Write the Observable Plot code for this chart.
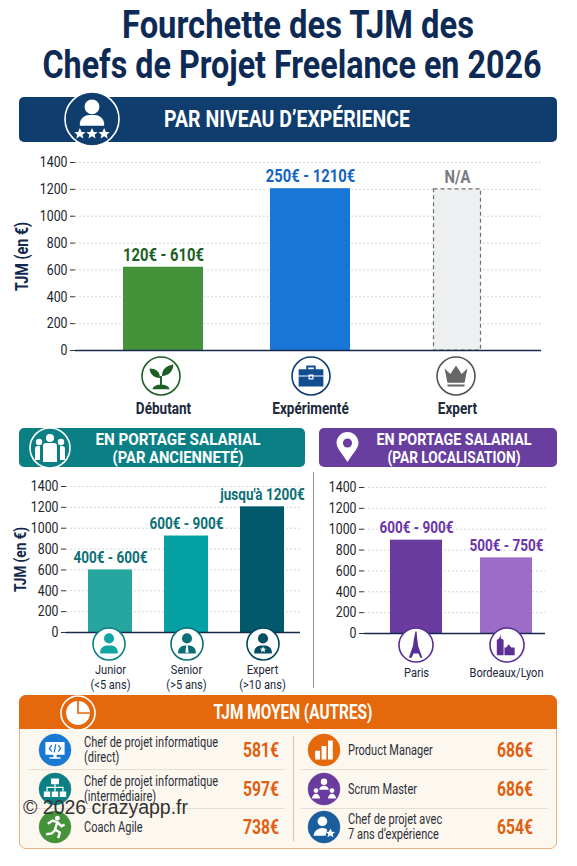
<!DOCTYPE html>
<html lang="fr"><head><meta charset="utf-8">
<script src="https://cdn.jsdelivr.net/npm/d3@7"></script>
<script src="https://cdn.jsdelivr.net/npm/@observablehq/plot@0.6"></script>
<style>
html,body{margin:0;padding:0;background:#fff}
#page{position:relative;width:577px;height:866px;overflow:hidden;font-family:Roboto,"Liberation Sans",sans-serif;color:#172a4a}
#page>*{position:absolute}
.t{white-space:nowrap;transform-origin:0 50%}
.sep{background:#e6dfd2}
svg text{font-family:Roboto,"Liberation Sans",sans-serif}
</style></head><body><div id="page"></div>
<script>
// --- Data ---
const titleLines = ["Fourchette des TJM des", "Chefs de Projet Freelance en 2026"];
const yTicks = [0, 200, 400, 600, 800, 1000, 1200, 1400];

const levelCats = ["Débutant", "Expérimenté"];
const levelValues = [620, 1205];
const levelLabels = ["120€ - 610€", "250€ - 1210€"];
const naCat = "Expert";
const naValue = 1200;
const naLabel = "N/A";

const seniorityCats = ["Junior\n(<5 ans)", "Senior\n(>5 ans)", "Expert\n(>10 ans)"];
const seniorityValues = [600, 925, 1205];
const seniorityLabels = ["400€ - 600€", "600€ - 900€", "jusqu'à 1200€"];

const placeCats = ["Paris", "Bordeaux/Lyon"];
const placeValues = [895, 725];
const placeLabels = ["600€ - 900€", "500€ - 750€"];

const yLabel = "TJM (en €)";
const otherLeftNames = ["Chef de projet informatique\n(direct)", "Chef de projet informatique\n(intermédiaire)", "Coach Agile"];
const otherLeftValues = ["581€", "597€", "738€"];
const otherRightNames = ["Product Manager", "Scrum Master", "Chef de projet avec\n7 ans d’expérience"];
const otherRightValues = ["686€", "686€", "654€"];

// --- Colours ---
const levelFill = ["#44933a", "#1877d6"];
const levelText = ["#1c5e24", "#1565c0"];
const seniorityFill = ["#27a6a0", "#05a0a4", "#02596b"];
const placeFill = ["#6a3c9e", "#9d6cc6"];
const navy = "#0f3d6e", teal = "#0b8084", purple = "#683e9f", orange = "#e5690c";

const page = document.getElementById("page");
function add(html){ const t=document.createElement("template"); t.innerHTML=html.trim(); const n=t.content.firstChild; page.appendChild(n); return n; }
function place(node,left,top){ node.style.left=left+"px"; node.style.top=top+"px"; page.appendChild(node); return node; }

// HTML text squeezed horizontally to imitate the condensed face. anchor: 0 left, .5 centre.
function txt(s,{x,y,size,weight=400,color="#fff",width,scale,anchor=0,lh}){
  const n=add(`<div class="t" style="left:${x}px;top:${y}px;font-size:${size}px;font-weight:${weight};color:${color};line-height:${lh||size*1.1}px"></div>`);
  n.textContent=s;
  const w=n.getBoundingClientRect().width;
  const k=scale||width/w;
  n.style.transform=`translateX(${-anchor*w*k}px) translateY(-50%) scaleX(${k})`;
  return n;
}
function squeeze(svg,k){
  svg.querySelectorAll("text").forEach(t=>{
    const spans=t.querySelectorAll("tspan");
    (spans.length?[...spans]:[t]).forEach(e=>{
      const l=e.getComputedTextLength();
      if(l>0){e.setAttribute("textLength",l*k);e.setAttribute("lengthAdjust","spacingAndGlyphs");}
    });
  });
}

function chart({cats,values,labels,fills,textFill,top,width,height,left,zeroGap,xRange,pad,xRight,tickFont,tickWeight,tickPad,labelFont,showY,yFont,extra=[]}){
  const rows = cats.map((c,i)=>({c,v:values[i],t:labels[i],tf:textFill[i]}));
  const domain = cats.concat(extra.map(e=>e.c));
  const svg=place(Plot.plot({
    width,height,marginLeft:left,marginRight:width-xRight,marginTop:12,marginBottom:zeroGap,
    style:{background:"transparent",overflow:"visible"},
    x:{type:"band",domain,range:xRange,paddingInner:pad,paddingOuter:0},
    y:{domain:[0,1400]},
    color:{domain:cats,range:fills},
    marks:[
      Plot.gridY(yTicks,{stroke:"#d3d6da",strokeOpacity:1,strokeDasharray:"2,2"}),
      Plot.barY(rows,{x:"c",y:"v",fill:"c"}),
      ...extra.map(e=>Plot.barY([e],{x:"c",y:"v",fill:"#eeeff1",stroke:"#6f6f6f",strokeWidth:1.2,strokeDasharray:"4,3",insetLeft:16.5,insetRight:16.5})),
      Plot.axisY({ticks:yTicks,tickFormat:"d",label:null,tickSize:5,tickPadding:3,fontSize:15,stroke:"#333",color:"#20242c"}),
      Plot.axisX({label:null,tickSize:0,tickPadding:tickPad,fontSize:tickFont,fontWeight:tickWeight,lineHeight:1.12,color:"#20283a"}),
      Plot.ruleY([0],{stroke:"#16294d",strokeWidth:1.6}),
      Plot.text(rows,{x:"c",y:"v",text:"t",dy:-12,fontSize:labelFont,fontWeight:700,fill:"tf"}),
      ...extra.map(e=>Plot.text([e],{x:"c",y:"v",text:"t",dy:-12,fontSize:labelFont,fontWeight:700,fill:"#777a80"})),
      ...(showY?[Plot.text([yLabel],{frameAnchor:"left",textAnchor:"middle",rotate:-90,dx:showY,fontSize:yFont,fontWeight:700,fill:"#13284d"})]:[])
    ]
  }),0,top);
  squeeze(svg,.82);
  return svg;
}

// --- Title ---
txt(titleLines[0],{x:298,y:26,size:38,weight:700,color:"#0d2a55",width:352,anchor:.5});
txt(titleLines[1],{x:291.5,y:66,size:38,weight:700,color:"#0d2a55",width:499,anchor:.5});

// --- Section headers ---
const box=(x,y,w,h,bg)=>add(`<div style="left:${x}px;top:${y}px;width:${w}px;height:${h}px;background:${bg};border-radius:5px"></div>`);
box(19,97,538,45,navy);
txt("PAR NIVEAU D’EXPÉRIENCE",{x:287,y:120,size:23,weight:700,width:246,anchor:.5});
box(19,428,286,39,teal);
txt("EN PORTAGE SALARIAL",{x:177.5,y:440,size:16.5,weight:700,width:165,anchor:.5});
txt("(PAR ANCIENNETÉ)",{x:178,y:458,size:16.5,weight:700,width:131,anchor:.5});
box(319,428,238,39,purple);
txt("EN PORTAGE SALARIAL",{x:453.5,y:440,size:16.5,weight:700,width:155,anchor:.5});
txt("(PAR LOCALISATION)",{x:453.5,y:458,size:16.5,weight:700,width:133,anchor:.5});

// --- Charts ---
chart({cats:levelCats,values:levelValues,labels:levelLabels,fills:levelFill,textFill:levelText,top:150,width:577,height:270,left:75,zeroGap:70,
  xRange:[123,497],pad:.456,xRight:541,tickFont:16.5,tickWeight:700,tickPad:50,labelFont:18,showY:-53,yFont:17.5,
  extra:[{c:naCat,v:naValue,t:naLabel}]});
chart({cats:seniorityCats,values:seniorityValues,labels:seniorityLabels,fills:seniorityFill,textFill:seniorityCats.map(()=>"#0e6f76"),top:474,width:310,height:214,left:66,zeroGap:56,
  xRange:[87,284.5],pad:.427,xRight:300,tickFont:13.5,tickWeight:400,tickPad:31,labelFont:16.5,showY:-46,yFont:16.5});
chart({cats:placeCats,values:placeValues,labels:placeLabels,fills:placeFill,textFill:placeCats.map(()=>"#6a35a8"),top:475,width:577,height:214,left:364,zeroGap:56,
  xRange:[390,532.5],pad:.425,xRight:545,tickFont:13.5,tickWeight:400,tickPad:33,labelFont:16.5});
add(`<div style="left:313px;top:472px;width:1px;height:216px;background:#8a8f96"></div>`);

// --- Decorative icons ---
const star = (x,y,s,c="#fff")=>`<path transform="translate(${x} ${y}) scale(${s})" fill="${c}" d="M0-5 1.5-1.6 5-1.5 2.3.7 3.1 4 0 2.2-3.1 4-2.3.7-5-1.5-1.5-1.6z"/>`;
const person = (c,extra="")=>`<circle cy="-7" r="6.3" fill="${c}"/><path fill="${c}" d="M-11 12v-3a8 8 0 0 1 8-7h6a8 8 0 0 1 8 7v3z"/>${extra}`;
function icon(cx,cy,r,bg,ring,body,ringW=1.6){
  const m=20+2*20/r;
  add(`<svg style="left:${cx-r-2}px;top:${cy-r-2}px" width="${2*r+4}" height="${2*r+4}" viewBox="${-m} ${-m} ${2*m} ${2*m}"><circle r="20" fill="${bg}" stroke="${ring}" stroke-width="${ringW*20/r}"/>${body}</svg>`);
}
icon(92,119,27,navy,"#fff",`<circle cy="-9" r="5.5" fill="#fff"/><path fill="#fff" d="M-9 5v-2a7 7 0 0 1 7-6h4a7 7 0 0 1 7 6v2z"/>${star(-9,11,.85)}${star(0,11,.85)}${star(9,11,.85)}`);
const people=`<g fill="#fff"><circle cx="-11" cy="-6" r="3.2"/><circle cx="11" cy="-6" r="3.2"/><circle cy="-10" r="4"/><path d="M-15 12V1a3 3 0 0 1 3-3h2v14zM15 12V1a3 3 0 0 0-3-3h-2v14zM-7 14V-2a3 3 0 0 1 3-3h8a3 3 0 0 1 3 3v16z"/></g>`;
icon(50,448,20,teal,"#fff",people);
add(`<svg style="left:336px;top:432px" width="23" height="31" viewBox="-12.5 -13 25 34"><path fill="#fff" d="M0 20C-6 10-12 5-12-1a12 12 0 0 1 24 0C12 5 6 10 0 20z"/><circle cy="-1" r="5" fill="${purple}"/></svg>`);
icon(161,376,19,"#fff","#1c5e24",`<path fill="#1c5e24" d="M-9 14a9 5 0 0 1 18 0zM-1 10V0h2v10zM-1 2C-8 2-12-3-12-8c6 0 11 3 11 10zM1 0C1-7 6-11 13-12c0 7-5 12-12 12z"/>`);
icon(311,376,19,"#fff","#0f3d6e",`<path fill="#0f4d8e" d="M-13-7h26v18h-26zM-5-7v-4h10v4h-2v-2h-6v2z"/><path d="M-13 0h26M-2-1h4v4h-4z" stroke="#fff" stroke-width="1.2" fill="none"/>`);
icon(456,376,19,"#fff","#555",`<path fill="#666" d="M-12-8-6-2 0-11 6-2 12-8 9 7H-9zM-9 9H9v2H-9z"/>`);
icon(109,644,16,"#fff","#0b8084",person("#12a3a3"));
icon(187,644,16,"#fff","#0b6f7a",person("#0b6f7a",`<path fill="#fff" d="M-1 2h2l1 9h-4z"/>`));
icon(263,644,16,"#fff","#02495a",person("#024f62",star(0,7,.8)));
icon(416,645,17,"#fff","#5a2f96",`<path fill="#5a2f96" d="M-.7-16h1.4l.8 9 1 8 5 14H5l-2-5h-6l-2 5h-3.5l5-14 1-8z"/>`);
icon(507,645,17,"#fff","#5a2f96",`<path fill="#5a2f96" d="M-12 12V-6l3-2 1-4 1 4 3 2V12zM-3 12V3h2l3-4 3 4h4v9z"/>`);

// --- Other TJM panel ---
add(`<div style="left:19px;top:695px;width:536px;height:152px;background:#fdf8ef;border:1px solid #f0b27c;border-radius:7px"></div>`);
add(`<div style="left:19px;top:695px;width:538px;height:34px;background:${orange};border-radius:7px 7px 0 0"></div>`);
txt("TJM MOYEN (AUTRES)",{x:292.5,y:713,size:19.5,weight:700,width:159,anchor:.5});
icon(78,713,17,orange,"#fff",`<circle r="14" fill="#fff"/><path fill="none" stroke="${orange}" stroke-width="2" d="M0-14V0H14"/>`,1.6);
const rowY=[750,789,827];
add(`<div class="sep" style="left:29px;top:769px;width:256px;height:1px"></div>`);
add(`<div class="sep" style="left:29px;top:808px;width:256px;height:1px"></div>`);
add(`<div class="sep" style="left:301px;top:769px;width:247px;height:1px"></div>`);
add(`<div class="sep" style="left:301px;top:808px;width:247px;height:1px"></div>`);
add(`<div class="sep" style="left:293px;top:736px;width:1px;height:105px;background:#c9c5bc"></div>`);
const leftIcons=[
 ["#1878d2",`<path fill="#fff" d="M-12-10h24v16h-24zM-2 6h4v3h5v2H-7V9h5z"/><path fill="none" stroke="#1878d2" stroke-width="1.6" d="M-4-6-7-2-4 2M4-6 7-2 4 2M1-7-1 3"/>`],
 ["#0b8084",`<path fill="#fff" d="M-5-13h10v7H-5zM-14 3h8v7h-8zM-4 3h8v7h-8zM6 3h8v7H6z"/><path fill="none" stroke="#fff" stroke-width="1.5" d="M0-6V3M-10 3V-2H10V3"/>`],
 ["#44933a",`<circle cx="3" cy="-11" r="3" fill="#fff"/><path fill="none" stroke="#fff" stroke-width="3" d="M-9-4-3-8 3-6 0 3 6 7 4 14M1 3-4 8-11 9M3-6 8-1 12-3"/>`]];
const rightIcons=[
 ["#e5690c",`<path fill="#fff" d="M-11 1h6v11h-6zM-3-5h6v17h-6zM5-12h6v24H5z"/>`],
 ["#6a3c9e",`<g fill="#fff"><circle cy="-9" r="4"/><circle cx="-10" cy="2" r="3"/><circle cx="10" cy="2" r="3"/><path d="M-6 1a6 5 0 0 1 12 0zM-15 12a5 6 0 0 1 10 0zM5 12a5 6 0 0 1 10 0z"/></g>`],
 ["#1a5e9e",`<g fill="#fff"><circle cx="-2" cy="-7" r="6"/><path d="M-13 11a11 10 0 0 1 17-8L2 11z"/></g>${star(8,8,1.2)}`]];
function nameLines(s,x,y){
  const ls=s.split("\n");
  ls.forEach((l,i)=>txt(l,{x,y:y+.5+(i-(ls.length-1)/2)*15,size:14.5,color:"#2a2f3a",scale:.76,lh:14}));
}
rowY.forEach((y,i)=>{
  icon(55,y,16,leftIcons[i][0],leftIcons[i][0],leftIcons[i][1],0.5);
  nameLines(otherLeftNames[i],84,y);
  txt(otherLeftValues[i],{x:243,y,size:20,weight:700,color:"#df5f12",width:36});
  icon(324,y,16,rightIcons[i][0],rightIcons[i][0],rightIcons[i][1],0.5);
  nameLines(otherRightNames[i],348,y);
  txt(otherRightValues[i],{x:497,y,size:20,weight:700,color:"#df5f12",width:36});
});

// --- Watermark ---
add(`<div style="left:23px;top:797px;font-family:'Liberation Sans',sans-serif;font-size:19.5px;line-height:20px;color:#333;white-space:nowrap">© 2026 crazyapp.fr</div>`);
</script></body></html>
